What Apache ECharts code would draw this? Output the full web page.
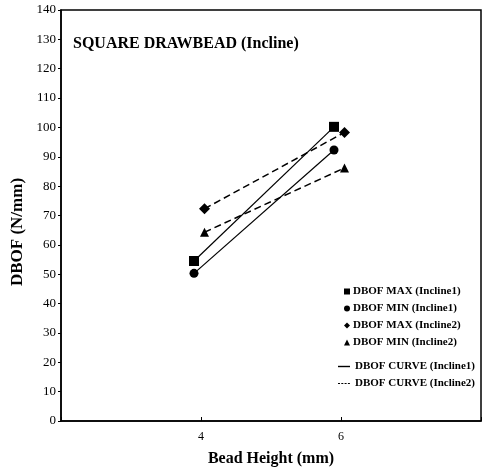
<html>
<head>
    <meta charset="utf-8">
    <title>Square drawbead DBOF</title>
    <style>
        html, body, #main { margin: 0; padding: 0; width: 484px; height: 472px; background: #fff; }
    </style>
    <script src="https://cdn.jsdelivr.net/npm/echarts@6/dist/echarts.min.js"></script>
</head>
<body>
<div id="main"></div>
<script>
    // values (x = bead height, y = DBOF)
    var maxIncline1 = [[3.9, 54.5], [5.9, 100.2]];
    var minIncline1 = [[3.9, 50.3], [5.9, 92.3]];
    var maxIncline2 = [[4.05, 72.3], [6.05, 98.3]];
    var minIncline2 = [[4.05, 64.3], [6.05, 86.2]];
    var xTickLabels = [4, 6];
    var seriesNames = ['DBOF MAX (Incline1)', 'DBOF MIN (Incline1)', 'DBOF MAX (Incline2)', 'DBOF MIN (Incline2)'];
    var curveNames = ['DBOF CURVE (Incline1)', 'DBOF CURVE (Incline2)'];

    var serif = 'Liberation Serif';
    var chart = echarts.init(document.getElementById('main'));

    function marker(name, data, symbol, size) {
        return {
            name: name, type: 'scatter', data: data, symbol: symbol, symbolSize: size,
            itemStyle: { color: '#000', opacity: 1 }, z: 5
        };
    }
    function curve(name, data, dashed) {
        return {
            name: name, type: 'line', data: data, symbol: 'none',
            lineStyle: { color: '#000', width: dashed ? 1.5 : 1.2, type: dashed ? [7, 4] : 'solid' },
            itemStyle: { color: '#000' }
        };
    }

    // legend icons for the curves: a bar in the middle of a 12x8 box
    var solidIcon = 'path://M0,0M0,3.3h12v1.4h-12zM12,8';
    var dottedIcon = 'path://M0,0M0,3.5h2v1h-2zM3.3,3.5h2v1h-2zM6.6,3.5h2v1h-2zM9.9,3.5h2v1h-2zM12,8';

    var option = {
        animation: false,
        grid: { left: 61, right: 2, top: 10, bottom: 48, show: true, borderColor: '#000', borderWidth: 1.5 },
        title: {
            text: 'SQUARE DRAWBEAD (Incline)', left: 68, top: 31,
            textStyle: { fontFamily: serif, fontWeight: 'bold', fontSize: 16, color: '#000' }
        },
        graphic: [{
            type: 'text', x: 18, y: 232, rotation: Math.PI / 2,
            style: {
                text: 'DBOF (N/mm)', font: 'bold 17px "Liberation Serif"', fill: '#000',
                textAlign: 'center', textVerticalAlign: 'middle'
            }
        }],
        legend: [{
            orient: 'vertical', left: 339, top: 281, itemGap: 6, itemWidth: 6, itemHeight: 6,
            data: [
                { name: seriesNames[0], icon: 'rect' },
                { name: seriesNames[1], icon: 'circle' },
                { name: seriesNames[2], icon: 'diamond' },
                { name: seriesNames[3], icon: 'triangle' }
            ],
            textStyle: { fontFamily: serif, fontWeight: 'bold', fontSize: 11, color: '#000', padding: [0, 0, 0, -2] }
        }, {
            orient: 'vertical', left: 333, top: 356, itemGap: 6, itemWidth: 12, itemHeight: 8,
            data: [
                { name: curveNames[0], icon: solidIcon },
                { name: curveNames[1], icon: dottedIcon }
            ],
            textStyle: { fontFamily: serif, fontWeight: 'bold', fontSize: 11, color: '#000' }
        }],
        xAxis: {
            type: 'value', min: 2, max: 8, interval: 2,
            name: 'Bead Height (mm)', nameLocation: 'middle', nameGap: 30,
            nameTextStyle: { fontFamily: serif, fontWeight: 'bold', fontSize: 16, color: '#000' },
            axisLine: { lineStyle: { color: '#000', width: 1.5 } },
            axisTick: { inside: true, length: 4, lineStyle: { color: '#000' } },
            axisLabel: {
                fontFamily: serif, fontSize: 12, color: '#000', margin: 10,
                formatter: function (v) { return xTickLabels.indexOf(v) >= 0 ? String(v) : ''; }
            },
            splitLine: { show: false }
        },
        yAxis: {
            type: 'value', min: 0, max: 140, interval: 10,
            axisLine: { lineStyle: { color: '#000', width: 1.5 } },
            axisTick: { length: 3, lineStyle: { color: '#000' } },
            axisLabel: { fontFamily: serif, fontSize: 13, color: '#000', margin: 5 },
            splitLine: { show: false }
        },
        series: [
            curve(curveNames[0], maxIncline1, false),
            curve(curveNames[0], minIncline1, false),
            curve(curveNames[1], maxIncline2, true),
            curve(curveNames[1], minIncline2, true),
            marker(seriesNames[0], maxIncline1, 'rect', 10),
            marker(seriesNames[1], minIncline1, 'circle', 9),
            marker(seriesNames[2], maxIncline2, 'diamond', 11),
            marker(seriesNames[3], minIncline2, 'triangle', 9)
        ]
    };
    chart.setOption(option);
</script>
</body>
</html>
